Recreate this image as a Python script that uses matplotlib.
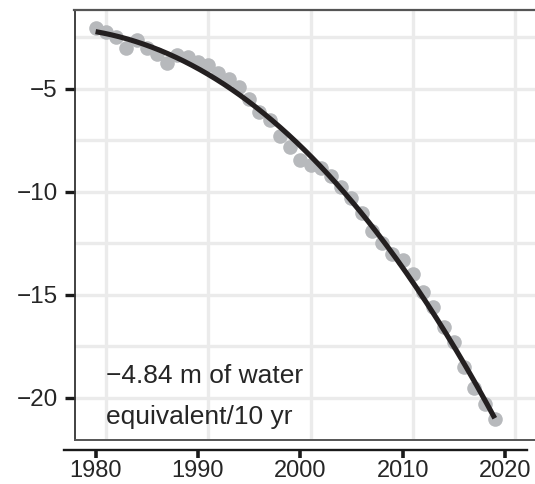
import numpy as np
import matplotlib.pyplot as plt

plt.rcParams['font.family'] = ['Liberation Sans', 'DejaVu Sans']

# cumulative mass balance, m w.e.
years = np.arange(1980, 2020)
balance = [
    -2.05, -2.25, -2.5, -3.0, -2.6, -3.0, -3.3, -3.75, -3.35, -3.45,
    -3.7, -3.85, -4.2, -4.5, -4.9, -5.5, -6.1, -6.5, -7.3, -7.8,
    -8.45, -8.7, -8.85, -9.2, -9.75, -10.3, -11.0, -11.9, -12.5, -13.0,
    -13.3, -14.0, -14.85, -15.6, -16.55, -17.3, -18.5, -19.5, -20.3, -21.0,
]
x_ticks = [1980, 1990, 2000, 2010, 2020]
y_ticks = [-5, -10, -15, -20]
rate_label = ['\u22124.84 m of water', 'equivalent/10 yr']

fig = plt.figure(figsize=(5.35, 4.84), dpi=100)
W, H = 535, 484
right_px = 600  # panel runs past the right edge
ax = fig.add_axes([74.5 / W, (H - 440) / H, (right_px - 74.5) / W, (440 - 10) / H])

px_per_year = 10.235
ax.set_xlim(1980 - (95.6 - 74.5) / px_per_year, 1980 + (right_px - 95.6) / px_per_year)
ax.set_ylim(-22.04, -1.165)

# panel grid
for gx in [1981, 1991, 2001, 2011, 2021]:
    ax.axvline(gx, color='#ebebeb', lw=2.4, zorder=0)
for gy in np.arange(-2.5, -21, -2.5):
    ax.axhline(gy, color='#ebebeb', lw=2.4, zorder=0)

ax.plot(years, balance, 'o', color='#b7b9bc', ms=10.5, mec='none', zorder=2)

# smooth trend through the annual values
coef = np.polyfit(years - 1980, balance, 3)
xs = np.linspace(1980, 2019, 200)
ax.plot(xs, np.polyval(coef, xs - 1980), color='#231f20', lw=3.7,
        solid_capstyle='butt', zorder=3)

ax.text(1981.0, -18.93, rate_label[0], fontsize=19, color='#262626',
        va='center', ha='left')
ax.text(1981.0, -20.9, rate_label[1], fontsize=19, color='#262626',
        va='center', ha='left')

# frame
ax.spines['right'].set_visible(False)
ax.spines['top'].set_color('#555555')
ax.spines['top'].set_linewidth(1.6)
ax.spines['left'].set_color('#333333')
ax.spines['left'].set_linewidth(1.3)
ax.plot([0, 1], [0, 0], transform=ax.transAxes, color='#555555', lw=1.4,
        clip_on=False, zorder=5)

# detached x axis line
ax.spines['bottom'].set_position(('outward', 7.2))
ax.spines['bottom'].set_bounds(1980 - (95.6 - 64) / px_per_year,
                               1980 + (527 - 95.6) / px_per_year)
ax.spines['bottom'].set_linewidth(1.7)
ax.spines['bottom'].set_color('#1a1a1a')

ax.set_xticks(x_ticks)
ax.set_yticks(y_ticks)
ax.set_yticklabels(['\u2212%d' % abs(v) for v in y_ticks])
ax.tick_params(axis='x', length=5.8, width=2.6, color='#1a1a1a', pad=1.5,
               labelsize=17, labelcolor='#262626')
ax.tick_params(axis='y', length=7, width=2.4, color='#1a1a1a', pad=5,
               labelsize=17.5, labelcolor='#262626')

fig.savefig('out.png', dpi=100)
